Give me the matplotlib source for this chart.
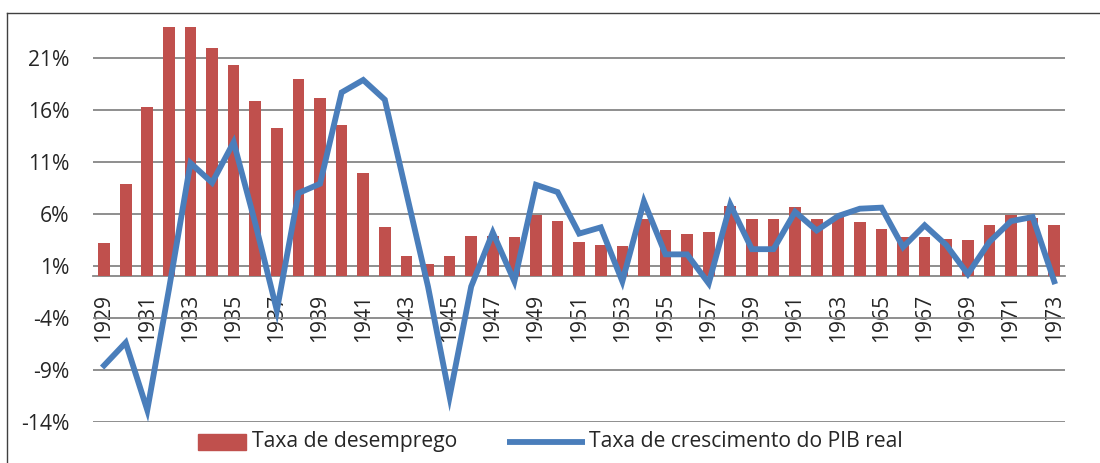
import matplotlib
matplotlib.use("Agg")
import matplotlib.pyplot as plt
from matplotlib.lines import Line2D
from matplotlib.patches import Rectangle

plt.rcParams['font.family'] = ['Open Sans', 'DejaVu Sans']

years = list(range(1929, 1974))
desemprego = [3.2, 8.9, 16.3, 24.1, 24.9, 22.0, 20.3, 16.9, 14.3, 19.0,
              17.2, 14.6, 9.9, 4.7, 1.9, 1.2, 1.9, 3.9, 3.9, 3.8,
              5.9, 5.3, 3.3, 3.0, 2.9, 5.5, 4.4, 4.1, 4.3, 6.8,
              5.5, 5.5, 6.7, 5.5, 5.7, 5.2, 4.5, 3.8, 3.8, 3.6,
              3.5, 4.9, 5.9, 5.6, 4.9]
pib = [-8.6, -6.4, -12.9, -1.3, 10.9, 9.0, 12.9, 5.1, -3.3, 8.0,
       8.9, 17.7, 18.9, 17.0, 8.0, -1.0, -11.6, -1.0, 4.2, -0.5,
       8.8, 8.1, 4.1, 4.7, -0.5, 7.2, 2.1, 2.1, -0.7, 6.9,
       2.6, 2.6, 6.2, 4.4, 5.8, 6.5, 6.6, 2.8, 4.9, 3.0,
       0.2, 3.3, 5.3, 5.7, -0.5]
yticks = [-14, -9, -4, 1, 6, 11, 16, 21]
xtick_years = list(range(1929, 1974, 2))

W, H = 1100, 463
FS = 15.2
fig = plt.figure(figsize=(W / 100, H / 100), dpi=100)
ax = fig.add_axes([93.3 / W, (H - 421.5) / H, (1065 - 93.3) / W, (421.5 - 26.5) / H])

x = list(range(len(years)))
bar_color = '#C0504D'
line_color = '#4A7EBB'
grid_color = '#868686'
text_color = '#262626'

ax.bar(x, desemprego, width=0.54, color=bar_color, zorder=2)
ax.plot(x, pib, color=line_color, linewidth=4.2, solid_joinstyle='miter', zorder=3)

ax.set_xlim(-0.5, len(years) - 0.5)
ax.set_ylim(-14, 24.05)

for s in ['top', 'right', 'left']:
    ax.spines[s].set_visible(False)
ax.spines['bottom'].set_position(('data', 0))
ax.spines['bottom'].set_color(grid_color)
ax.spines['bottom'].set_linewidth(1.3)
ax.spines['bottom'].set_zorder(1)

ax.set_yticks(yticks)
ax.set_yticklabels([f"{v}%" for v in yticks])
ax.yaxis.grid(True, color=grid_color, linewidth=1.3)
ax.set_axisbelow(True)

ax.set_xticks([years.index(y) for y in xtick_years])
ax.set_xticklabels([str(y) for y in xtick_years])

ax.tick_params(axis='both', length=0, labelsize=FS, colors=text_color)
ax.tick_params(axis='y', pad=17)
ax.tick_params(axis='x', pad=13, labelrotation=90)

# outer border
fig.add_artist(Line2D([7 / W, 1.0], [1 - 13 / H, 1 - 13 / H], transform=fig.transFigure,
                      color='#404040', linewidth=1.0))
fig.add_artist(Line2D([7 / W, 7 / W], [0, 1 - 13 / H], transform=fig.transFigure,
                      color='#404040', linewidth=1.0))

# legend
ly = 1 - 441.5 / H
fig.add_artist(Rectangle((197.7 / W, 1 - 449.5 / H), 48.3 / W, 16 / H,
                         transform=fig.transFigure, color=bar_color))
fig.text(251.7 / W, ly, 'Taxa de desemprego', fontsize=FS, color=text_color,
         va='center', ha='left')
fig.add_artist(Line2D([507 / W, 585 / W], [ly, ly], transform=fig.transFigure,
                      color=line_color, linewidth=4.2, solid_capstyle='butt'))
fig.text(589 / W, ly, 'Taxa de crescimento do PIB real', fontsize=FS, color=text_color,
         va='center', ha='left')

fig.savefig('out.png', dpi=100)
